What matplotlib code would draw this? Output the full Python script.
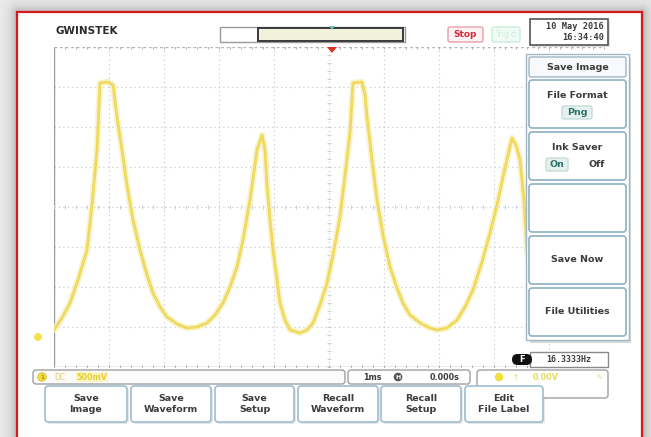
import numpy as np
import matplotlib
matplotlib.use("Agg")
import matplotlib.pyplot as plt
from matplotlib.patches import FancyBboxPatch, Rectangle, Polygon, Circle

# ---------------- data ----------------
# time in ms (1 ms/div, trigger at 0), amplitude in divisions
t_ms = [-5.00, -4.855, -4.709, -4.564, -4.40, -4.309, -4.218, -4.164, -4.018, -3.927,
        -3.855, -3.764, -3.673, -3.564, -3.436, -3.309, -3.20, -3.073, -2.945, -2.764,
        -2.582, -2.40, -2.218, -2.073, -1.927, -1.80, -1.673, -1.564, -1.436, -1.309,
        -1.218, -1.164, -1.127, -1.073, -1.018, -0.945, -0.891, -0.80, -0.709, -0.527,
        -0.40, -0.291, -0.164, -0.036, 0.073, 0.20, 0.291, 0.382, 0.436, 0.60,
        0.655, 0.691, 0.782, 0.873, 0.982, 1.109, 1.236, 1.345, 1.473, 1.655,
        1.836, 1.964, 2.145, 2.327, 2.473, 2.618, 2.782, 2.927, 3.055, 3.164,
        3.255, 3.327, 3.40, 3.473, 3.545, 3.60, 3.745, 3.927]
v_div = [-3.075, -2.775, -2.40, -1.825, -1.075, 0.05, 1.425, 3.10, 3.125, 3.05,
         2.25, 1.425, 0.55, -0.325, -1.075, -1.70, -2.15, -2.50, -2.75, -2.925,
         -3.025, -3.00, -2.90, -2.70, -2.40, -2.00, -1.50, -0.825, 0.175, 1.425,
         1.80, 1.425, 0.55, -0.325, -1.075, -1.825, -2.40, -2.825, -3.075, -3.15,
         -3.075, -2.90, -2.45, -1.90, -1.20, -0.25, 0.80, 1.85, 3.10, 3.125,
         2.80, 2.25, 1.175, 0.175, -0.70, -1.50, -2.025, -2.40, -2.70, -2.90,
         -3.025, -3.075, -3.025, -2.825, -2.50, -2.075, -1.375, -0.65, 0.05, 0.75,
         1.30, 1.725, 1.55, 1.175, 0.175, -1.075, -2.325, -2.95]

side_menu = ["Save Image", "File Format", "Ink Saver", "", "Save Now", "File Utilities"]
bottom_menu = ["Save\nImage", "Save\nWaveform", "Save\nSetup",
               "Recall\nWaveform", "Recall\nSetup", "Edit\nFile Label"]
date_text = ["10 May 2016", "16:34:40"]
freq_text = "16.3333Hz"
timebase_text = ["1ms", "0.000s"]

# ---------------- figure ----------------
W, H = 651, 437
fig = plt.figure(figsize=(W / 100, H / 100), dpi=100)

# background layer (pixel coordinates)
bg = fig.add_axes([0, 0, 1, 1], zorder=0)
bg.set_xlim(0, W); bg.set_ylim(H, 0); bg.axis("off")
yy, xx = np.mgrid[0:H, 0:W]
dx = np.maximum(np.maximum(17 - xx, xx - 642), 0)
dy = np.maximum(12 - yy, 0)
d = np.hypot(dx, dy)
shade = 0.93 - 0.25 * np.exp(-d / 6.0)
bg.imshow(np.dstack([shade] * 3), extent=(0, W, H, 0), aspect="auto", zorder=0)
bg.add_patch(Rectangle((17, 12), 625, 430, facecolor="white", edgecolor="#d41a1a",
                       linewidth=1.6, zorder=1))

# scope screen: 10 x 8 divisions
L, T, R, B = 54, 47, 604, 367
sc = fig.add_axes([L / W, 1 - B / H, (R - L) / W, (B - T) / H], zorder=1)
sc.set_xlim(-5, 5); sc.set_ylim(-4, 4)
sc.patch.set_alpha(0)
for s in sc.spines.values():
    s.set_visible(False)
sc.set_xticks([]); sc.set_yticks([])
gcol = "#c4c4c4"
for x in range(-4, 5):
    sc.axvline(x, color=gcol, lw=0.8, ls=(0, (1, 3)), zorder=1)
for y in range(-3, 4):
    sc.axhline(y, color=gcol, lw=0.8, ls=(0, (1, 3)), zorder=1)
sc.axvline(-5, color="#9a9a9a", lw=1.0, zorder=1)
sc.axhline(-4, color="#a0a0a0", lw=1.0, zorder=1)
sc.axhline(4, color="#b4b4b4", lw=1.0, ls=(0, (2, 2)), zorder=1)
minor_x = np.arange(-5, 5.01, 0.2)
minor_y = np.arange(-4, 4.01, 0.2)
sc.plot(minor_x, np.zeros_like(minor_x), ls="none", marker="|", ms=2.5, mew=0.7, color="#cfcfcf", zorder=1)
sc.plot(np.zeros_like(minor_y), minor_y, ls="none", marker="_", ms=2.5, mew=0.7, color="#cfcfcf", zorder=1)
sc.plot(minor_x, np.full_like(minor_x, 4), ls="none", marker="|", ms=3, mew=0.7, color="#b0b0b0", zorder=1)
sc.plot(minor_x, np.full_like(minor_x, -4), ls="none", marker="|", ms=3, mew=0.7, color="#b0b0b0", zorder=1)
# trace with glow
sc.plot(t_ms, v_div, color="#f7f0c0", lw=4.5, alpha=0.8, solid_joinstyle="round",
        solid_capstyle="round", zorder=2)
sc.plot(t_ms, v_div, color="#eed64e", lw=1.9, solid_joinstyle="round", zorder=3)
sc.plot(t_ms, v_div, color="#f6ea94", lw=0.7, ls=(0, (1, 1.5)), zorder=4)

# overlay layer (pixel coordinates)
ov = fig.add_axes([0, 0, 1, 1], zorder=2)
ov.set_xlim(0, W); ov.set_ylim(H, 0); ov.axis("off"); ov.patch.set_alpha(0)

def rbox(x0, y0, x1, y1, ec="#a9bfcf", fc="white", lw=1.0, pad=2, z=3, shadow=False):
    if shadow:
        ov.add_patch(FancyBboxPatch((x0 + 2, y0 + 2), x1 - x0, y1 - y0,
                                    boxstyle=f"round,pad=0,rounding_size={pad}",
                                    facecolor="#d8d8d8", edgecolor="none", alpha=0.6, zorder=z - 0.5))
    ov.add_patch(FancyBboxPatch((x0, y0), x1 - x0, y1 - y0,
                                boxstyle=f"round,pad=0,rounding_size={pad}",
                                facecolor=fc, edgecolor=ec, linewidth=lw, zorder=z))

txt_col = "#3c3c3c"
bold = dict(fontweight="bold", color=txt_col, ha="center", va="center", zorder=6)

# header
ov.text(55, 31, "GWINSTEK", fontsize=7.5, fontweight="bold", color="#2a2a2a",
        ha="left", va="center", family="DejaVu Sans", zorder=6)
ov.add_patch(Rectangle((220, 27), 185, 15, facecolor="white", edgecolor="#9a9a9a", lw=1.0, zorder=3))
ov.add_patch(Rectangle((258, 28), 145, 13, facecolor="#f2f1dc", edgecolor="#3a3a3a", lw=1.4, zorder=4))
ov.add_patch(Polygon([[329, 26], [335, 26], [332, 30]], closed=True, facecolor="#6cc8b8",
                     edgecolor="none", zorder=5))
ov.add_patch(Polygon([[327, 47], [337, 47], [332, 53]], closed=True, facecolor="#e03020",
                     edgecolor="none", zorder=5))
rbox(448, 27, 483, 42, ec="#e8a0ac", fc="#fdf3f4", lw=1.0, pad=2)
ov.text(465.5, 34.5, "Stop", fontsize=6.5, fontweight="bold", color="#d42a3a",
        ha="center", va="center", zorder=6)
rbox(492, 27, 520, 42, ec="#c8ecdc", fc="#f1fbf6", lw=1.0, pad=2)
ov.text(506, 34.5, "Trig'd", fontsize=5.5, color="#cdeee0", ha="center", va="center", zorder=6)
ov.add_patch(Rectangle((530, 19), 78, 26, facecolor="white", edgecolor="#555555", lw=1.2, zorder=3))
ov.add_patch(Rectangle((532, 21), 78, 26, facecolor="#e0e0e0", edgecolor="none", zorder=2.5))
ov.text(604, 26.5, date_text[0], fontsize=6.2, family="DejaVu Sans Mono", fontweight="bold",
        color=txt_col, ha="right", va="center", zorder=6)
ov.text(604, 37.5, date_text[1], fontsize=6.2, family="DejaVu Sans Mono", fontweight="bold",
        color=txt_col, ha="right", va="center", zorder=6)

# side menu
ov.add_patch(Rectangle((530, 58), 101, 285, facecolor="#d9d9d9", edgecolor="none", zorder=2.8))
ov.add_patch(Rectangle((526, 54), 103, 286, facecolor="white", edgecolor="#9fb6c6", lw=1.0, zorder=2.9))
rbox(529, 57, 626, 77, ec="#9fb6c6", fc="#f7f9fa", pad=2)
ov.text(577.5, 67, side_menu[0], fontsize=6.8, **bold)
boxes = [(80, 128), (132, 180), (184, 232), (236, 284), (288, 336)]
for (y0, y1), lab in zip(boxes, side_menu[1:]):
    rbox(529, y0, 626, y1, ec="#8fb0c4", fc="white", lw=1.2, pad=3)
    if lab:
        ym = (y0 + y1) / 2
        if lab in ("File Format", "Ink Saver"):
            ov.text(577.5, ym - 8, lab, fontsize=6.8, **bold)
        else:
            ov.text(577.5, ym, lab, fontsize=6.8, **bold)
rbox(562, 106, 592, 119, ec="#c8dcd8", fc="#e4f1ee", pad=2, z=4)
ov.text(577, 112.5, "Png", fontsize=6.8, fontweight="bold", color="#2d7468",
        ha="center", va="center", zorder=6)
rbox(546, 158, 568, 171, ec="#c8dcd8", fc="#e4f1ee", pad=2, z=4)
ov.text(557, 164.5, "On", fontsize=6.8, fontweight="bold", color="#2d7468",
        ha="center", va="center", zorder=6)
ov.text(597, 164.5, "Off", fontsize=6.8, **bold)

# frequency readout
ov.add_patch(Rectangle((530, 352), 78, 15, facecolor="white", edgecolor="#8a8a8a", lw=1.0, zorder=3))
ov.add_patch(FancyBboxPatch((512, 354), 20, 11, boxstyle="round,pad=0,rounding_size=5.5",
                            facecolor="#111111", edgecolor="none", zorder=4))
ov.text(522, 359.5, "F", fontsize=6, fontweight="bold", color="white", ha="center", va="center", zorder=6)
ov.text(569, 359.5, freq_text, fontsize=6, family="DejaVu Sans Mono", fontweight="bold",
        color=txt_col, ha="center", va="center", zorder=6)

# status bars
rbox(33, 370, 345, 384, ec="#a0a0a0", fc="#fbfbfb", pad=3)
ov.add_patch(Circle((42, 377), 4.2, facecolor="#f3df3a", edgecolor="#d8c020", lw=0.6, zorder=5))
ov.text(42, 377.3, "1", fontsize=4.5, color="#6a5a00", ha="center", va="center", zorder=6)
ov.text(60, 377, "DC", fontsize=5.5, color="#e0cf60", ha="center", va="center", zorder=6)
ov.text(92, 377, "500mV", fontsize=5.8, fontweight="bold", color="#e6cf30", ha="center",
        va="center", zorder=6, bbox=dict(boxstyle="square,pad=0.1", fc="#fbf4c6", ec="none"))
rbox(348, 370, 470, 384, ec="#a0a0a0", fc="white", pad=3)
ov.text(372, 377, timebase_text[0], fontsize=5.8, fontweight="bold", color=txt_col,
        ha="center", va="center", zorder=6)
ov.add_patch(Circle((398, 377), 4.3, facecolor="#555555", edgecolor="none", zorder=5))
ov.text(398, 377.3, "H", fontsize=4.5, fontweight="bold", color="white", ha="center", va="center", zorder=6)
ov.text(445, 377, timebase_text[1], fontsize=5.8, fontweight="bold", color=txt_col,
        ha="center", va="center", zorder=6)
rbox(477, 370, 608, 398, ec="#a0a0a0", fc="white", pad=3)
ov.add_patch(Circle((499, 377), 4.2, facecolor="#f3df3a", edgecolor="none", zorder=5))
ov.text(516, 377, "\u2191", fontsize=5.5, color="#e8d860", ha="center", va="center", zorder=6)
ov.text(546, 377, "0.00V", fontsize=5.8, fontweight="bold", color="#e8d860", ha="center",
        va="center", zorder=6)
ov.text(599, 377, "\u223f", fontsize=6, color="#e8d860", ha="center", va="center", zorder=6)
ov.add_patch(Circle((38, 337), 4, facecolor="#f3df3a", edgecolor="none", alpha=0.9, zorder=5))

# bottom soft keys
bx = [(45, 127), (131, 211), (215, 294), (298, 378), (381, 461), (465, 543)]
for (x0, x1), lab in zip(bx, bottom_menu):
    rbox(x0, 386, x1, 422, ec="#9fbdd0", fc="white", lw=1.2, pad=3, shadow=True)
    ov.text((x0 + x1) / 2, 404, lab, fontsize=6.8, linespacing=1.25, **bold)

fig.savefig("out.png", dpi=100)
